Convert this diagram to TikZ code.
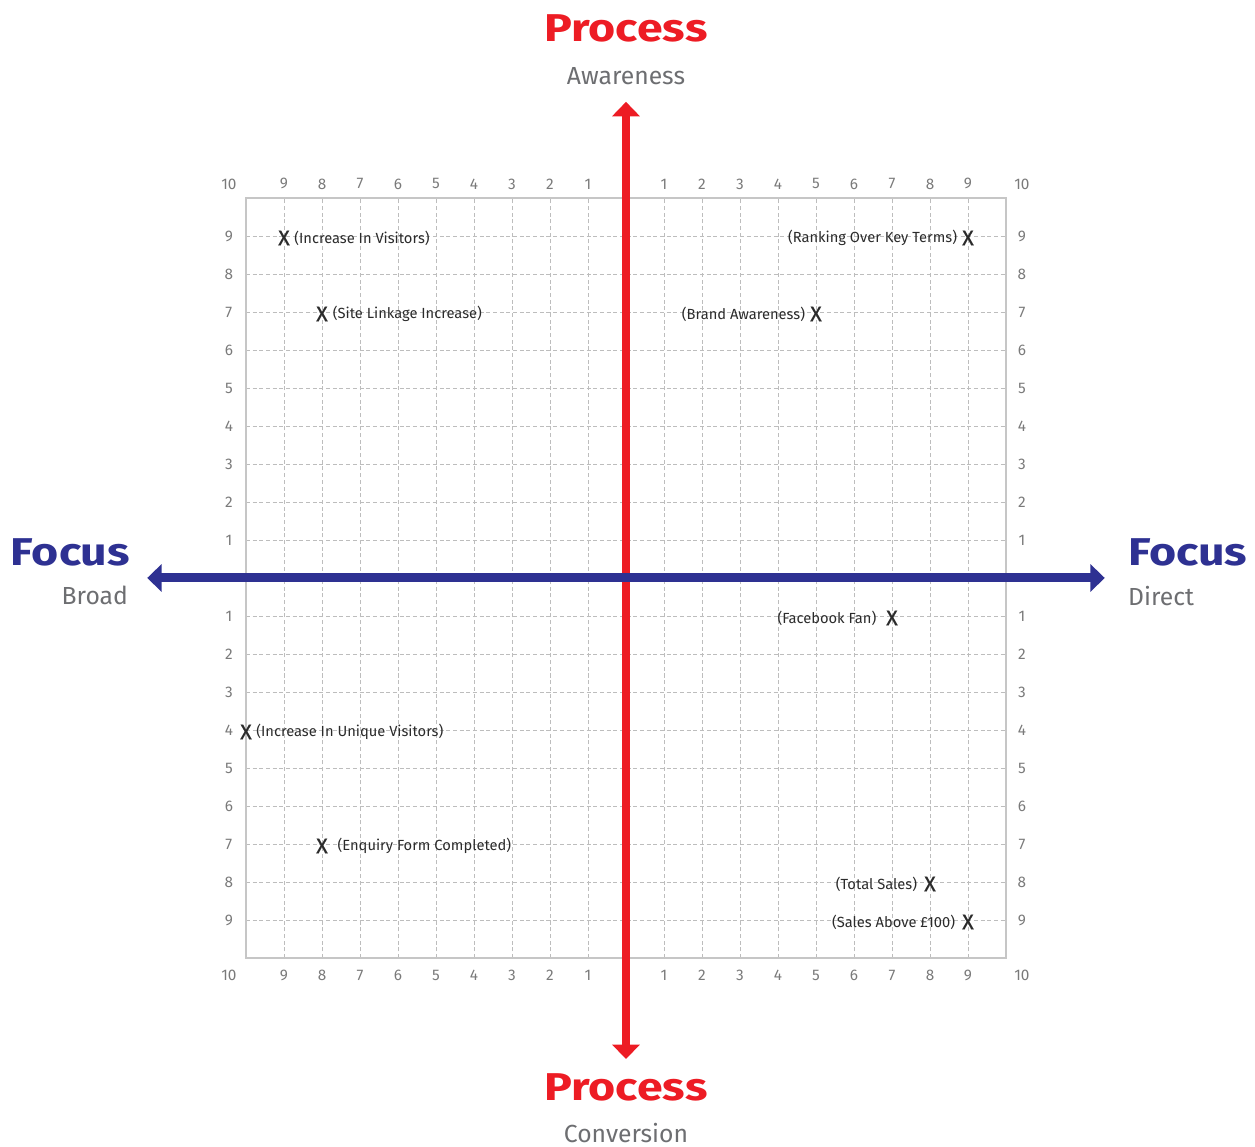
\documentclass[tikz,border=0pt]{standalone}
\usepackage{fontspec}
\setmainfont{Fira Sans}
\newfontfamily\headfont[FakeStretch=1.2]{Fira Sans}
\usetikzlibrary{positioning}
\usetikzlibrary{arrows.meta}
\definecolor{procred}{HTML}{ED1C24}
\definecolor{focusblue}{HTML}{2E3192}
\definecolor{subgray}{HTML}{6D6E71}
\definecolor{tickgray}{HTML}{7A7A7A}
\definecolor{gridgray}{HTML}{BDBDBD}
\definecolor{notegray}{HTML}{2B2B2B}

\begin{document}
\begin{tikzpicture}[
  xmark/.style={inner sep=0pt, yshift=-1.5pt, text=notegray, font=\fontsize{16}{16}\selectfont\addfontfeature{FakeBold=0.6}},
  note/.style={inner sep=0pt, text=notegray, font=\fontsize{11}{13}\selectfont},
  tick/.style={inner sep=0pt, text=tickgray, font=\fontsize{11.5}{13}\selectfont},
  headline/.style={inner sep=0pt, font=\headfont\bfseries\fontsize{29}{31}\selectfont},
  subline/.style={inner sep=0pt, text=subgray, font=\fontsize{18.5}{21}\selectfont},
  axis/.style={line width=6.7pt, {Triangle[length=0.38cm, width=0.71cm]}-{Triangle[length=0.38cm, width=0.71cm]}},
]
\useasboundingbox (-16.474,-14.974) rectangle (16.553,15.21);

% grid
\draw[gridgray, line width=0.5pt, dash pattern=on 3pt off 2pt] (-10,-10) grid (10,10);
\draw[gray!45, line width=1.4pt] (-10,-10) rectangle (10,10);

% scale numbers
\foreach \i in {1,...,9} {
  \node[tick] (tl\i) at (-\i,10.37) {\i};
  \node[tick] (tr\i) at (\i,10.37) {\i};
  \node[tick] (bl\i) at (-\i,-10.45) {\i};
  \node[tick] (br\i) at (\i,-10.45) {\i};
  \node[tick] (lu\i) at (-10.45,\i) {\i};
  \node[tick] (ld\i) at (-10.45,-\i) {\i};
  \node[tick] (ru\i) at (10.42,\i) {\i};
  \node[tick] (rd\i) at (10.42,-\i) {\i};
}
\node[tick] (tl10) at (-10.45,10.37) {10};
\node[tick] (tr10) at (10.42,10.37) {10};
\node[tick] (bl10) at (-10.45,-10.45) {10};
\node[tick] (br10) at (10.42,-10.45) {10};

% axes
\coordinate (awareness) at (0,12.53);
\coordinate (conversion) at (0,-12.66);
\coordinate (broad) at (-12.6,0);
\coordinate (direct) at (12.6,0);
\draw[axis, procred] (conversion) -- (awareness);
\draw[axis, focusblue] (broad) -- (direct);

% axis titles
\node[headline, text=procred] (procTop) at (0,14.45) {Process};
\node[subline] (procTopSub) at (0,13.21) {Awareness};
\node[headline, text=procred] (procBot) at (0,-13.4) {Process};
\node[subline] (procBotSub) at (0,-14.6) {Conversion};
\node[headline, text=focusblue, anchor=east] (focusL) at (-13.05,0.66) {Focus};
\node[subline, anchor=east] (focusLSub) at (-13.1,-0.47) {Broad};
\node[headline, text=focusblue, anchor=west] (focusR) at (13.21,0.66) {Focus};
\node[subline, anchor=west] (focusRSub) at (13.21,-0.47) {Direct};

% marks
\node[xmark] (visitors) at (-9,9) {X};
\node[note] (visitorsTxt) [right=3pt of visitors] {(Increase In Visitors)};
\node[xmark] (linkage) at (-8,7) {X};
\node[note] (linkageTxt) [right=3.5pt of linkage] {(Site Linkage Increase)};
\node[xmark] (ranking) at (9,9) {X};
\node[note] (rankingTxt) [left=3.5pt of ranking] {(Ranking Over Key Terms)};
\node[xmark] (brand) at (5,7) {X};
\node[note] (brandTxt) [left=3.5pt of brand] {(Brand Awareness)};
\node[xmark] (facebook) at (7,-1) {X};
\node[note] (facebookTxt) [left=7pt of facebook] {(Facebook Fan)};
\node[xmark] (unique) at (-10,-4) {X};
\node[note] (uniqueTxt) [right=3pt of unique] {(Increase In Unique Visitors)};
\node[xmark] (enquiry) at (-8,-7) {X};
\node[note] (enquiryTxt) [right=7pt of enquiry] {(Enquiry Form Completed)};
\node[xmark] (sales) at (8,-8) {X};
\node[note] (salesTxt) [left=5pt of sales] {(Total Sales)};
\node[xmark] (salesHigh) at (9,-9) {X};
\node[note] (salesHighTxt) [left=5pt of salesHigh] {(Sales Above £100)};
\end{tikzpicture}
\end{document}
